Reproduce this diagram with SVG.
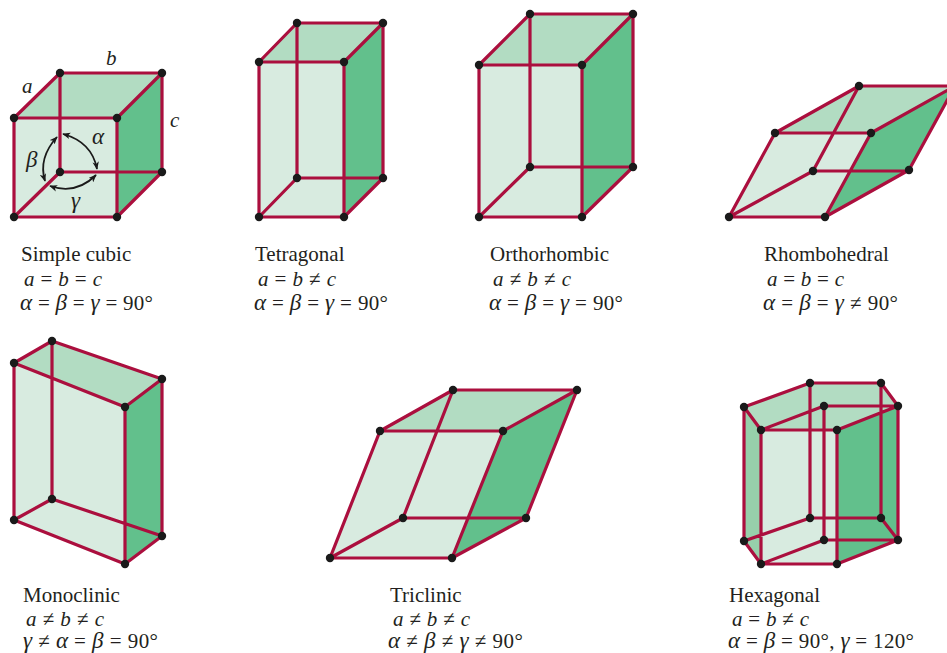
<svg xmlns="http://www.w3.org/2000/svg" width="947" height="653" viewBox="0 0 947 653">
<style>
.f{fill:#d8ebe0}.t{fill:#b2dcc2}.r{fill:#62c08c}.l{fill:#97d0ab}
.e{fill:none;stroke:#ab0f3e;stroke-width:3.2;stroke-linejoin:round;stroke-linecap:round}
.n{fill:#1a1a1a;stroke:none}
.a{fill:none;stroke:#1a1a1a;stroke-width:1.8;marker-start:url(#h);marker-end:url(#h)}
text{font-family:"Liberation Serif","Times New Roman",serif;font-size:21px;fill:#231f20}
.i{font-style:italic}
.g{font-style:italic;font-size:23px}
</style>
<defs>
<marker id="h" viewBox="0 0 10 8" refX="9" refY="4" markerWidth="8" markerHeight="7" orient="auto-start-reverse" markerUnits="userSpaceOnUse"><path d="M0 0L10 4L0 8L2.5 4Z" fill="#1a1a1a"/></marker>
</defs>
<rect width="947" height="653" fill="#ffffff"/>

<g id="simple-cubic">
<polygon class="f" points="14,118 117,118 117,217 14,217"/>
<polygon class="t" points="14,118 60,73 162,73 117,118"/>
<polygon class="r" points="117,118 162,73 162,172 117,217"/>
<path class="e" d="M60,73V172M14,217L60,172H162M14,118L60,73H162M117,118L162,73V172L117,217M14,118H117V217H14Z"/>
<g class="n"><circle cx="14" cy="118" r="4.2"/><circle cx="117" cy="118" r="4.2"/><circle cx="14" cy="217" r="4.2"/><circle cx="117" cy="217" r="4.2"/><circle cx="60" cy="73" r="4.2"/><circle cx="162" cy="73" r="4.2"/><circle cx="60" cy="172" r="4.2"/><circle cx="162" cy="172" r="4.2"/></g>
<path class="a" d="M63,134Q92,142 97,169"/>
<path class="a" d="M57,137Q38,158 45,181"/>
<path class="a" d="M50,186Q76,195 96,175"/>
<text class="i" x="22" y="93">a</text><text class="i" x="106" y="65">b</text><text class="i" x="170" y="127">c</text>
<text class="g" x="92" y="144">α</text><text class="g" x="26" y="167">β</text><text class="g" x="71" y="208">γ</text>
<text x="21" y="261">Simple cubic</text>
<text x="24" y="286" textLength="78"><tspan class="i">a</tspan> = <tspan class="i">b</tspan> = <tspan class="i">c</tspan></text>
<text x="20" y="310" textLength="133"><tspan class="g">α</tspan> = <tspan class="g">β</tspan> = <tspan class="g">γ</tspan> = 90°</text>
</g>

<g id="tetragonal">
<polygon class="f" points="259,62 344,62 344,217 259,217"/>
<polygon class="t" points="259,62 297,23 383,23 344,62"/>
<polygon class="r" points="344,62 383,23 383,178 344,217"/>
<path class="e" d="M297,23V178M259,217L297,178H383M259,62L297,23H383M344,62L383,23V178L344,217M259,62H344V217H259Z"/>
<g class="n"><circle cx="259" cy="62" r="4.2"/><circle cx="344" cy="62" r="4.2"/><circle cx="259" cy="217" r="4.2"/><circle cx="344" cy="217" r="4.2"/><circle cx="297" cy="23" r="4.2"/><circle cx="383" cy="23" r="4.2"/><circle cx="297" cy="178" r="4.2"/><circle cx="383" cy="178" r="4.2"/></g>
<text x="255" y="261">Tetragonal</text>
<text x="258" y="286" textLength="78"><tspan class="i">a</tspan> = <tspan class="i">b</tspan> ≠ <tspan class="i">c</tspan></text>
<text x="254" y="310" textLength="134"><tspan class="g">α</tspan> = <tspan class="g">β</tspan> = <tspan class="g">γ</tspan> = 90°</text>
</g>

<g id="orthorhombic">
<polygon class="f" points="479,65 582,65 582,217 479,217"/>
<polygon class="t" points="479,65 530,14 633,14 582,65"/>
<polygon class="r" points="582,65 633,14 633,167 582,217"/>
<path class="e" d="M530,14V167M479,217L530,167H633M479,65L530,14H633M582,65L633,14V167L582,217M479,65H582V217H479Z"/>
<g class="n"><circle cx="479" cy="65" r="4.2"/><circle cx="582" cy="65" r="4.2"/><circle cx="479" cy="217" r="4.2"/><circle cx="582" cy="217" r="4.2"/><circle cx="530" cy="14" r="4.2"/><circle cx="633" cy="14" r="4.2"/><circle cx="530" cy="167" r="4.2"/><circle cx="633" cy="167" r="4.2"/></g>
<text x="490" y="261">Orthorhombic</text>
<text x="493" y="286" textLength="78"><tspan class="i">a</tspan> ≠ <tspan class="i">b</tspan> ≠ <tspan class="i">c</tspan></text>
<text x="489" y="310" textLength="134"><tspan class="g">α</tspan> = <tspan class="g">β</tspan> = <tspan class="g">γ</tspan> = 90°</text>
</g>

<g id="rhombohedral">
<polygon class="f" points="775,133 871,133 825,217 729,217"/>
<polygon class="t" points="775,133 859,86 955,86 871,133"/>
<polygon class="r" points="871,133 955,86 909,170 825,217"/>
<path class="e" d="M859,86L813,171M729,217L813,171H909M775,133L859,86H955M871,133L955,86L909,170L825,217M775,133H871L825,217H729Z"/>
<g class="n"><circle cx="775" cy="133" r="4.2"/><circle cx="871" cy="133" r="4.2"/><circle cx="729" cy="217" r="4.2"/><circle cx="825" cy="217" r="4.2"/><circle cx="859" cy="86" r="4.2"/><circle cx="813" cy="171" r="4.2"/><circle cx="909" cy="170" r="4.2"/></g>
<text x="764" y="261">Rhombohedral</text>
<text x="767" y="286" textLength="77"><tspan class="i">a</tspan> = <tspan class="i">b</tspan> = <tspan class="i">c</tspan></text>
<text x="763" y="310" textLength="135"><tspan class="g">α</tspan> = <tspan class="g">β</tspan> = <tspan class="g">γ</tspan> ≠ 90°</text>
</g>

<g id="monoclinic">
<polygon class="f" points="14,363 125,407 125,564 14,520"/>
<polygon class="t" points="14,363 52,341 162,379 125,407"/>
<polygon class="r" points="125,407 162,379 162,536 125,564"/>
<path class="e" d="M52,341V499M14,520L52,499L162,536M14,363L52,341L162,379M125,407L162,379V536L125,564M14,363L125,407V564L14,520Z"/>
<g class="n"><circle cx="14" cy="363" r="4.2"/><circle cx="125" cy="407" r="4.2"/><circle cx="14" cy="520" r="4.2"/><circle cx="125" cy="564" r="4.2"/><circle cx="52" cy="341" r="4.2"/><circle cx="162" cy="379" r="4.2"/><circle cx="52" cy="499" r="4.2"/><circle cx="162" cy="536" r="4.2"/></g>
<text x="23" y="602">Monoclinic</text>
<text x="26" y="626" textLength="78"><tspan class="i">a</tspan> ≠ <tspan class="i">b</tspan> ≠ <tspan class="i">c</tspan></text>
<text x="23" y="648" textLength="135"><tspan class="g">γ</tspan> ≠ <tspan class="g">α</tspan> = <tspan class="g">β</tspan> = 90°</text>
</g>

<g id="triclinic">
<polygon class="f" points="380,431 503,431 452,558 330,558"/>
<polygon class="t" points="380,431 453,390 577,390 503,431"/>
<polygon class="r" points="503,431 577,390 526,518 452,558"/>
<path class="e" d="M453,390L403,518M330,558L403,518H526M380,431L453,390H577M503,431L577,390L526,518L452,558M380,431H503L452,558H330Z"/>
<g class="n"><circle cx="380" cy="431" r="4.2"/><circle cx="503" cy="431" r="4.2"/><circle cx="330" cy="558" r="4.2"/><circle cx="452" cy="558" r="4.2"/><circle cx="453" cy="390" r="4.2"/><circle cx="577" cy="390" r="4.2"/><circle cx="403" cy="518" r="4.2"/><circle cx="526" cy="518" r="4.2"/></g>
<text x="390" y="602">Triclinic</text>
<text x="393" y="626" textLength="77"><tspan class="i">a</tspan> ≠ <tspan class="i">b</tspan> ≠ <tspan class="i">c</tspan></text>
<text x="388" y="648" textLength="135"><tspan class="g">α</tspan> ≠ <tspan class="g">β</tspan> ≠ <tspan class="g">γ</tspan> ≠ 90°</text>
</g>

<g id="hexagonal">
<polygon class="f" points="761,430 837,430 837,564 761,564"/>
<polygon class="l" points="744,407 761,430 761,564 744,541"/>
<polygon class="t" points="744,407 810,383 881,383 898,406 837,430 761,430"/>
<polygon class="r" points="837,430 898,406 898,540 837,564"/>
<path class="e" d="M810,383V518M881,383V518M824,406V540M744,541L810,518H881L898,540M761,564L824,540H898M744,407L810,383H881L898,406M761,430L824,406H898L837,430M744,407V541L761,564M744,407L761,430V564H837V430H761M898,406V540L837,564"/>
<g class="n"><circle cx="810" cy="383" r="4.2"/><circle cx="881" cy="383" r="4.2"/><circle cx="898" cy="406" r="4.2"/><circle cx="824" cy="406" r="4.2"/><circle cx="744" cy="407" r="4.2"/><circle cx="761" cy="430" r="4.2"/><circle cx="837" cy="430" r="4.2"/><circle cx="744" cy="541" r="4.2"/><circle cx="761" cy="564" r="4.2"/><circle cx="837" cy="564" r="4.2"/><circle cx="898" cy="540" r="4.2"/><circle cx="824" cy="540" r="4.2"/><circle cx="810" cy="518" r="4.2"/><circle cx="881" cy="518" r="4.2"/></g>
<text x="729" y="602">Hexagonal</text>
<text x="732" y="626" textLength="77"><tspan class="i">a</tspan> = <tspan class="i">b</tspan> ≠ <tspan class="i">c</tspan></text>
<text x="728" y="648" textLength="186"><tspan class="g">α</tspan> = <tspan class="g">β</tspan> = 90°, <tspan class="g">γ</tspan> = 120°</text>
</g>
</svg>
